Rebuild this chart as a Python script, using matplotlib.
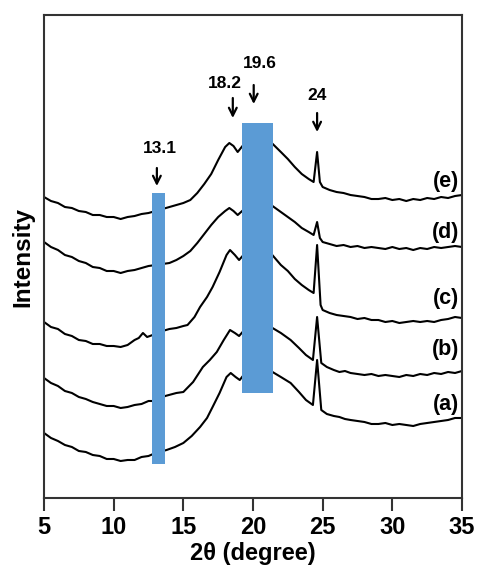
import matplotlib
matplotlib.use("Agg")
import matplotlib.pyplot as plt

plt.rcParams["font.family"] = ["Liberation Sans", "DejaVu Sans"]
plt.rcParams["font.weight"] = "bold"

# XRD patterns, offset vertically (arbitrary intensity units)
theta_a = [5.0, 5.5, 6.0, 6.5, 7.0, 7.5, 8.0, 8.5, 9.0, 9.5, 10.0, 10.5, 11.0, 11.5, 12.0, 12.5,
           13.0, 13.8, 14.4, 15.0, 15.6, 16.2, 16.7, 17.1, 17.6, 18.1, 18.4, 18.75, 19.05, 19.6,
           20.3, 20.9, 21.4, 22.0, 22.7, 23.3, 23.8, 24.3, 24.6, 24.9, 25.3, 25.8, 26.2, 26.6,
           27.0, 27.5, 28.0, 28.5, 29.0, 29.5, 30.0, 30.5, 31.0, 31.5, 32.0, 32.5, 33.0, 33.5,
           34.0, 34.5, 35.0]
int_a = [65, 60, 57, 53, 51, 47, 46, 43, 42, 39, 39, 37, 38, 38, 41, 42,
         45, 48, 51, 55, 62, 71, 80, 91, 105, 121, 125, 121, 118, 128,
         132, 131, 126, 121, 115, 106, 98, 93, 138, 88, 84, 82, 81, 79,
         78, 77, 76, 74, 74, 75, 73, 74, 73, 72, 74, 75, 76, 77,
         78, 80, 80]

theta_b = [5.0, 5.5, 6.0, 6.5, 7.0, 7.5, 8.0, 8.5, 9.0, 9.5, 10.0, 10.5, 11.0, 11.5, 12.0, 12.5,
           13.0, 13.7, 14.5, 15.0, 15.7, 16.4, 16.9, 17.4, 17.9, 18.35, 18.7, 19.0, 19.5, 20.2,
           20.8, 21.4, 22.0, 22.7, 23.3, 23.8, 24.3, 24.6, 24.9, 25.3, 25.8, 26.2, 26.6, 27.0,
           27.5, 28.0, 28.5, 29.0, 29.5, 30.0, 30.5, 31.0, 31.5, 32.0, 32.5, 33.0, 33.5, 34.0,
           34.5, 35.0]
int_b = [120, 115, 112, 107, 105, 101, 99, 96, 94, 92, 92, 90, 91, 93, 94, 97,
         97, 102, 105, 106, 116, 131, 138, 146, 158, 168, 165, 162, 170, 176,
         175, 170, 165, 158, 150, 143, 138, 181, 135, 131, 128, 126, 127, 125,
         124, 123, 124, 122, 123, 122, 121, 123, 122, 124, 123, 125, 124, 126,
         125, 127]

theta_c = [5.0, 5.5, 6.0, 6.5, 7.0, 7.5, 8.0, 8.5, 9.0, 9.5, 10.0, 10.5, 11.0, 11.5, 11.8, 12.1,
           12.4, 13.0, 13.5, 14.0, 14.5, 15.0, 15.3, 15.8, 16.2, 16.7, 17.1, 17.6, 18.1, 18.35,
           18.7, 19.0, 19.5, 20.0, 20.7, 21.2, 22.0, 22.5, 23.0, 23.5, 24.0, 24.35, 24.6, 24.85,
           25.0, 25.5, 26.0, 26.5, 27.0, 27.5, 28.0, 28.5, 29.0, 29.5, 30.0, 30.5, 31.0, 31.5,
           32.0, 32.5, 33.0, 33.5, 34.0, 34.5, 35.0]
int_c = [176, 171, 169, 164, 162, 158, 157, 154, 154, 152, 152, 151, 153, 158, 160, 165,
         161, 164, 167, 169, 170, 172, 173, 181, 191, 201, 211, 226, 243, 248,
         243, 238, 246, 251, 251, 246, 233, 227, 219, 213, 208, 205, 253, 193,
         188, 185, 183, 182, 181, 179, 180, 178, 178, 176, 177, 175, 176, 177,
         176, 177, 176, 178, 179, 181, 180]

theta_d = [5.0, 5.5, 6.0, 6.5, 7.0, 7.5, 8.0, 8.5, 9.0, 9.5, 10.0, 10.5, 11.0, 11.5, 12.0, 12.5,
           13.0, 13.5, 14.0, 14.5, 15.0, 15.5, 16.0, 16.5, 17.0, 17.5, 18.0, 18.3, 18.6, 18.9,
           19.3, 19.8, 20.5, 21.2, 22.0, 22.5, 23.0, 23.5, 24.0, 24.35, 24.6, 24.8, 25.0, 25.5,
           26.0, 26.5, 27.0, 27.5, 28.0, 28.5, 29.0, 29.5, 30.0, 30.5, 31.0, 31.5, 32.0, 32.5,
           33.0, 33.5, 34.0, 34.5, 35.0]
int_d = [256, 251, 248, 243, 241, 237, 235, 231, 230, 227, 227, 225, 227, 228, 230, 232,
         233, 234, 235, 238, 242, 247, 255, 264, 273, 281, 287, 290, 287, 283,
         288, 294, 297, 294, 286, 281, 276, 270, 266, 263, 276, 260, 256, 254,
         252, 253, 251, 252, 250, 251, 250, 249, 251, 249, 250, 248, 250, 249,
         251, 250, 251, 252, 251]

theta_e = [5.0, 5.5, 6.0, 6.5, 7.0, 7.5, 8.0, 8.5, 9.0, 9.5, 10.0, 10.5, 11.0, 11.5, 12.0, 12.5,
           13.0, 13.5, 14.0, 14.5, 15.0, 15.5, 16.0, 16.5, 17.0, 17.5, 18.0, 18.3, 18.6, 18.9,
           19.3, 19.8, 20.5, 21.2, 22.0, 22.5, 23.0, 23.5, 24.0, 24.35, 24.6, 24.8, 25.0, 25.5,
           26.0, 26.5, 27.0, 27.5, 28.0, 28.5, 29.0, 29.5, 30.0, 30.5, 31.0, 31.5, 32.0, 32.5,
           33.0, 33.5, 34.0, 34.5, 35.0]
int_e = [301, 297, 295, 291, 290, 287, 286, 283, 283, 281, 281, 279, 281, 282, 284, 285,
         287, 289, 291, 293, 295, 298, 305, 314, 324, 338, 351, 355, 352, 346,
         353, 359, 360, 357, 346, 339, 331, 324, 319, 316, 346, 316, 311, 308,
         306, 305, 303, 302, 301, 299, 299, 300, 298, 299, 297, 299, 298, 300,
         299, 301, 300, 302, 303]

curve_names = ["(a)", "(b)", "(c)", "(d)", "(e)"]
curve_label_y = [93, 148, 200, 266, 317]

# highlighted reflection regions: (left, right, bottom, top)
band_left = [12.75, 19.2]
band_right = [13.7, 21.45]
band_bottom = [34, 105]
band_top = [305, 375]

# peak markers
peak_text = ["13.1", "18.2", "19.6", "24"]
peak_pos = [13.1, 18.55, 20.05, 24.6]
arrow_top = [330, 400, 413, 385]
arrow_tip = [312, 380, 394, 366]
text_pos = [13.33, 17.99, 20.5, 24.6]
text_y = [350, 415, 435, 403]

fig = plt.figure(figsize=(4.8, 5.69), dpi=100)
ax = fig.add_axes([0.0917, 0.1248, 0.8708, 0.8488])

for th, inten in zip([theta_a, theta_b, theta_c, theta_d, theta_e],
                     [int_a, int_b, int_c, int_d, int_e]):
    ax.plot(th, inten, color="black", lw=1.5, zorder=2)

for l, r, b, t in zip(band_left, band_right, band_bottom, band_top):
    ax.bar(l, t - b, width=r - l, bottom=b, align="edge", color="#5b9bd5", zorder=3)

for name, y in zip(curve_names, curve_label_y):
    ax.text(34.8, y, name, ha="right", va="center", fontsize=15.5, fontweight="bold")

for txt, x, y0, y1, tx, ty in zip(peak_text, peak_pos, arrow_top, arrow_tip, text_pos, text_y):
    ax.annotate("", xy=(x, y1), xytext=(x, y0),
                arrowprops=dict(arrowstyle="->", lw=1.6, color="black", mutation_scale=14,
                                shrinkA=0, shrinkB=0))
    ax.text(tx, ty, txt, ha="center", va="center", fontsize=12.5, fontweight="bold")

ax.set_xlim(5, 35)
ax.set_ylim(0, 483)
ax.set_xticks([5, 10, 15, 20, 25, 30, 35])
ax.set_yticks([])
ax.tick_params(axis="x", direction="out", length=9, width=1.5, color="#333333",
               labelsize=17, pad=4)
for lab in ax.get_xticklabels():
    lab.set_fontweight("bold")
for sp in ax.spines.values():
    sp.set_color("#333333")
    sp.set_linewidth(1.5)

ax.set_xlabel("2θ (degree)", fontsize=17, fontweight="bold", labelpad=2)
ax.set_ylabel("Intensity", fontsize=17.5, fontweight="bold", labelpad=7)

fig.savefig("out.png", dpi=100)
